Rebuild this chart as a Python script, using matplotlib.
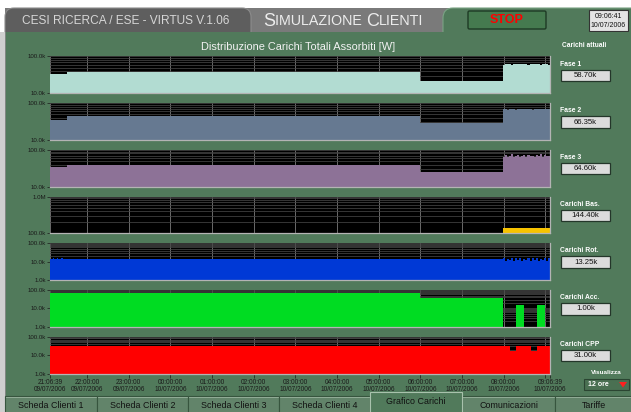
import numpy as np
import matplotlib
matplotlib.use("Agg")
import matplotlib.pyplot as plt
from matplotlib.patches import Rectangle, FancyBboxPatch, Polygon
from matplotlib.ticker import LogLocator, NullFormatter

W, H = 631, 412
FONT = "Liberation Sans"

# ---------------- data ----------------
hour_ticks = [0.0, 0.8892, 1.8892, 2.8892, 3.8892, 4.8892, 5.8892, 6.8892,
              7.8892, 8.8892, 9.8892, 10.8892, 11.8892, 12.0]
hour_labels = ["21:06:39\n09/07/2006", "22:00:00\n09/07/2006", "23:00:00\n09/07/2006",
               "00:00:00\n10/07/2006", "01:00:00\n10/07/2006", "02:00:00\n10/07/2006",
               "03:00:00\n10/07/2006", "04:00:00\n10/07/2006", "05:00:00\n10/07/2006",
               "06:00:00\n10/07/2006", "07:00:00\n10/07/2006", "08:00:00\n10/07/2006",
               "", "09:06:39\n10/07/2006"]

t_end = list(np.linspace(10.87, 12.0, 24))

fase1_t = [0.0, 0.4, 8.88] + t_end
fase1_v = [33000, 38000, 22000] + [60500, 63000, 61500, 62500, 60000, 64000, 62000, 63500,
                                    61000, 62500, 64500, 61500, 60000, 62000, 63000, 61500,
                                    64000, 62500, 60500, 63000, 61000, 62500, 60000, 58700]
fase2_t = [0.0, 0.4, 8.88] + t_end
fase2_v = [34000, 44000, 29000] + [68000, 70000, 67000, 69500, 71000, 68000, 66500, 70000,
                                    69000, 71500, 67500, 68500, 70500, 69000, 67000, 71000,
                                    68500, 70000, 69500, 67500, 70500, 68000, 69000, 66350]
fase3_t = [0.0, 0.4, 8.88] + t_end
fase3_v = [35000, 40000, 24500] + [66000, 72000, 64000, 70000, 75000, 65000, 68000, 73000,
                                    63000, 69000, 71000, 66000, 74000, 67000, 70000, 64000,
                                    72000, 68000, 75000, 66000, 71000, 69000, 67000, 64600]
bas_t = [0.0, 10.87, 12.0]
bas_v = [50000, 141000, 144400]
rot_t = [0.0, 0.06, 0.1, 0.16, 0.2, 0.26, 0.3, 0.36] + t_end
rot_v = [13400, 15000, 13400, 15000, 13400, 15000, 13400, 13400] + [
    15500, 11000, 14800, 12000, 16000, 10800, 15200, 12500, 15800, 11200, 14500, 13000,
    16200, 10900, 15000, 12200, 15600, 11500, 14900, 12800, 16000, 11000, 15300, 13250]
acc_t = [0.0, 0.4, 8.88, 10.87, 11.18, 11.38, 11.68, 11.87, 12.0]
acc_v = [70000, 73000, 35000, 500, 15000, 500, 15000, 500, 1000]
cpp_t = [0.0, 11.04, 11.18, 11.54, 11.69, 12.0]
cpp_v = [31000, 17000, 31000, 17000, 31000, 31000]

panel_names = ["Fase 1", "Fase 2", "Fase 3", "Carichi Bas.", "Carichi Rot.",
               "Carichi Acc.", "Carichi CPP"]
panel_values = ["58.70k", "66.35k", "64.60k", "144.40k", "13.25k", "1.00k", "31.00k"]
panel_colors = ["#b2dcd2", "#667991", "#8d7297", "#f7c300", "#0039d6", "#00dc22", "#ff0000"]
panel_ylims = [(1e4, 1e5), (1e4, 1e5), (1e4, 1e5), (1e5, 1e6), (1e3, 1e5), (1e3, 1e5), (1e3, 1e5)]
series_t = [fase1_t, fase2_t, fase3_t, bas_t, rot_t, acc_t, cpp_t]
series_v = [fase1_v, fase2_v, fase3_v, bas_v, rot_v, acc_v, cpp_v]
tab_names = ["Scheda Clienti 1", "Scheda Clienti 2", "Scheda Clienti 3", "Scheda Clienti 4",
             "Grafico Carichi", "Comunicazioni", "Tariffe"]

GREEN = "#517a5b"

# ---------------- figure ----------------
fig = plt.figure(figsize=(W / 100, H / 100), dpi=100, facecolor="white")
bg = fig.add_axes([0, 0, 1, 1], zorder=0)
bg.set_xlim(0, W)
bg.set_ylim(H, 0)
bg.axis("off")

# header
bg.add_patch(Rectangle((5, 8), 626, 30, fc="#7a7a7a", ec="none"))
bg.add_patch(FancyBboxPatch((5, 8), 246, 34, boxstyle="round,pad=0,rounding_size=9",
                            fc="#5e5e5e", ec="#8c8c8c", lw=0.8))
bg.add_patch(FancyBboxPatch((443, 8), 200, 34, boxstyle="round,pad=0,rounding_size=10",
                            fc=GREEN, ec="#7aa384", lw=0.8))
bg.text(22, 20.5, "CESI RICERCA / ESE - VIRTUS V.1.06", color="#d6d6d6", fontsize=8.6,
        family=FONT, ha="left", va="center")
t1 = bg.text(263, 21.5, "S", color="#ececec", fontsize=13, family=FONT, ha="left", va="center")
t2 = bg.annotate("IMULAZIONE ", xy=(1, 0), xycoords=t1, color="#ececec", fontsize=10.3,
                 family=FONT, ha="left", va="bottom", xytext=(0, 1.2), textcoords="offset points")
t3 = bg.annotate("C", xy=(1, 0), xycoords=t2, color="#ececec", fontsize=13,
                 family=FONT, ha="left", va="bottom", xytext=(0, -1.2), textcoords="offset points")
bg.annotate("LIENTI", xy=(1, 0), xycoords=t3, color="#ececec", fontsize=10.3,
            family=FONT, ha="left", va="bottom", xytext=(0, 1.2), textcoords="offset points")
# STOP button
bg.add_patch(FancyBboxPatch((468, 11), 78, 18, boxstyle="round,pad=0,rounding_size=1.5",
                            fc="#457a4f", ec="#1e3a25", lw=1.0, zorder=2))
bg.text(507, 20, "STOP", color="#ff0000", fontsize=9, fontweight="bold", family=FONT,
        ha="center", va="center", zorder=5)
# date box
bg.add_patch(Rectangle((589, 10), 39, 21, fc="#e4e4e4", ec="#333333", lw=0.8))
bg.text(608.5, 16, "09:06:41", color="#111111", fontsize=5, family=FONT, ha="center", va="center")
bg.text(608.5, 25, "10/07/2006", color="#111111", fontsize=5, family=FONT, ha="center", va="center")

# main panel
bg.add_patch(Rectangle((5, 32), 626, 364, fc=GREEN, ec="none"))
bg.add_patch(Rectangle((0, 32), 4.5, 380, fc="#cfcfcf", ec="none"))
bg.plot([4.8, 4.8], [32, 412], color="#8a8a8a", lw=0.6)
bg.text(298, 47, "Distribuzione Carichi Totali Assorbiti [W]", color="#f2f2f2",
        fontsize=7.9, family=FONT, ha="center", va="center")
bg.text(562, 45, "Carichi attuali", color="white", fontsize=4.8, fontweight="bold",
        family=FONT, ha="left", va="center")

# bottom tabs
tab_x = [5, 97, 188, 279, 370, 462, 555, 632]
for i, name in enumerate(tab_names):
    x0, x1 = tab_x[i], tab_x[i + 1]
    if name == "Grafico Carichi":
        bg.add_patch(Rectangle((x0, 392), x1 - x0, 22, fc=GREEN, ec="#a9c2ad", lw=0.8, zorder=3))
        bg.text((x0 + x1) / 2, 402, name, color="#111111", fontsize=6.4, family=FONT,
                ha="center", va="center", zorder=4)
    else:
        bg.add_patch(Rectangle((x0, 396), x1 - x0, 18, fc="#62846a", ec="#37553e", lw=0.8, zorder=2))
        bg.plot([x0 + 1, x1 - 1], [397, 397], color="#9ab49f", lw=0.6, zorder=2)
        bg.text((x0 + x1) / 2, 405.5, name, color="#111111", fontsize=6.4, family=FONT,
                ha="center", va="center", zorder=2)

# Visualizza
bg.text(606, 373, "Visualizza", color="white", fontsize=4.6, fontweight="bold",
        family=FONT, ha="center", va="center")
bg.add_patch(Rectangle((584, 379), 45, 11, fc="#4a7052", ec="#2b4532", lw=0.8))
bg.text(598, 384.5, "12 ore", color="white", fontsize=5, fontweight="bold", family=FONT,
        ha="center", va="center")
bg.add_patch(Polygon([[619, 382], [627, 382], [623, 387.5]], closed=True, fc="#ff2020", ec="none"))

# ---------------- chart panels ----------------
px_left, px_right = 50, 550
tops = [56.5 + 46.7 * i for i in range(7)]
ph = 36.8


def fmt(v):
    if v >= 1e6:
        return "%.1fM" % (v / 1e6)
    return "%.1fk" % (v / 1e3)


for i in range(7):
    top = tops[i]
    ax = fig.add_axes([px_left / W, 1 - (top + ph) / H, (px_right - px_left) / W, ph / H], zorder=1)
    ax.set_facecolor("black")
    ax.set_yscale("log")
    lo, hi = panel_ylims[i]
    ax.set_ylim(lo, hi)
    ax.set_xlim(0, 12)
    ax.set_axisbelow(True)
    ax.fill_between(series_t[i], series_v[i], lo * 0.1, step="post", color=panel_colors[i],
                    lw=0, zorder=2)
    majors = []
    v = lo
    while v <= hi * 1.001:
        majors.append(v)
        v *= 10
    ax.set_yticks(majors)
    ax.set_yticklabels([fmt(m) for m in majors])
    ax.yaxis.set_minor_locator(LogLocator(base=10, subs=np.arange(2, 10)))
    ax.yaxis.set_minor_formatter(NullFormatter())
    ax.grid(axis="y", which="both", color="#444444", lw=0.55)
    ax.set_xticks(hour_ticks)
    ax.grid(axis="x", which="major", color="#7c7c7c", lw=0.6)
    ax.tick_params(axis="y", which="major", labelsize=4.4, colors="#1a1a1a", length=2,
                   width=0.5, pad=1)
    ax.tick_params(axis="y", which="minor", length=0)
    for lab in ax.get_yticklabels():
        lab.set_family(FONT)
    if i == 6:
        ax.set_xticklabels(hour_labels)
        ax.tick_params(axis="x", labelsize=4.7, colors="#1a1a1a", length=3, width=0.5, pad=1)
        for lab in ax.get_xticklabels():
            lab.set_family(FONT)
            lab.set_linespacing(1.0)
    else:
        ax.tick_params(axis="x", length=0, labelbottom=False)
    for s in ("left", "top"):
        ax.spines[s].set_visible(False)
    for s in ("bottom", "right"):
        ax.spines[s].set_color("#b4b4b4")
        ax.spines[s].set_linewidth(0.9)

    # right widgets
    bg.text(560, top + 7.5, panel_names[i], color="white", fontsize=4.9, fontweight="bold",
            family=FONT, ha="left", va="center")
    bg.add_patch(Rectangle((561, top + 13), 49, 11.5, fc="#dcdcdc", ec="#24362a", lw=0.9))
    bg.text(585.5, top + 18.9, panel_values[i], color="#111111", fontsize=5.6, family=FONT,
            ha="center", va="center")

fig.savefig("out.png", dpi=100, facecolor="white")
